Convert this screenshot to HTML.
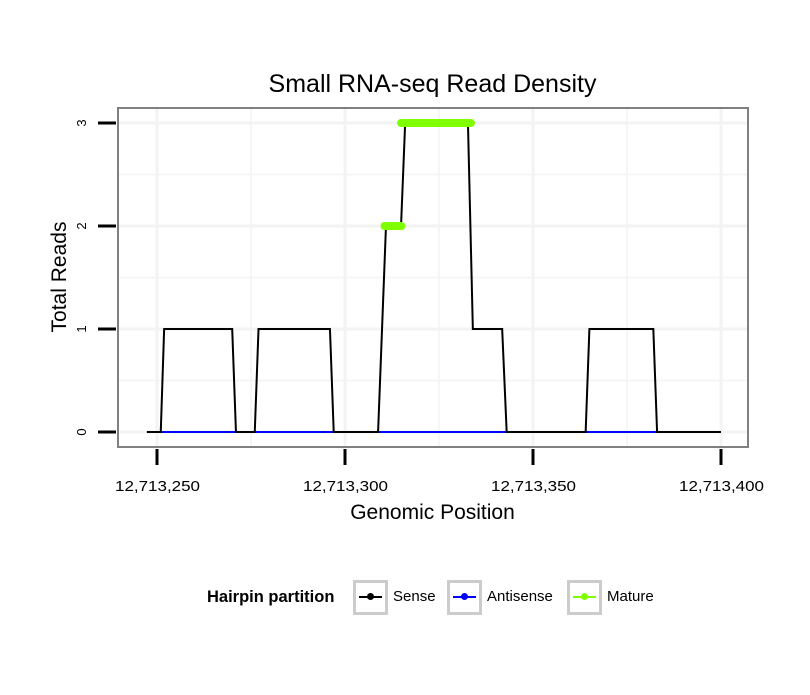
<!DOCTYPE html>
<html><head><meta charset="utf-8"><style>body{margin:0;background:#fff}svg{font-family:"Liberation Sans",sans-serif}</style></head>
<body>
<svg id="c" width="810" height="690"></svg>
<script>
const senseX=[247.3,251,251.9,270,271,276,277,296,297,308.8,310.9,314.9,316,332.7,334,341.8,343,364,365,382,383,400];
const senseY=[0,0,1,1,0,0,1,1,0,0,2,2,3,3,1,1,0,0,1,1,0,0];
const antiX=[251,383];
const antiY=[0,0];
const matureStart=[310.5,314.9];
const matureEnd=[315,333.5];
const matureY=[2,3];
const xTicks=[250,300,350,400];
const xTickLabels=["12,713,250","12,713,300","12,713,350","12,713,400"];
const yTicks=[0,1,2,3];
const NS="http://www.w3.org/2000/svg";
const svg=document.getElementById('c');
const X=v=>157+(v-250)*3.76;
const Y=v=>432-v*103;
function el(t,a,p){const e=document.createElementNS(NS,t);for(const k in a)e.setAttribute(k,a[k]);(p||svg).appendChild(e);return e;}
const L=118,R=748,T=108,B=447;
const panel=el('rect',{x:L,y:T,width:R-L,height:B-T,fill:'#fff'});


const grid=el('g',{stroke:'#f3f3f3'});


for(let v=0;v<=3.25;v+=0.5){el('line',{x1:L,x2:R,y1:Y(v),y2:Y(v),'stroke-width':v%1?1.5:3},grid);}
for(let v=225;v<=400;v+=25){if(X(v)>L&&X(v)<R)el('line',{y1:T,y2:B,x1:X(v),x2:X(v),'stroke-width':v%50?1.5:3},grid);}
const anti=el('polyline',{points:antiX.map((x,i)=>X(x)+','+Y(antiY[i])).join(' '),fill:'none',stroke:'#0000ff','stroke-width':2});


const sense=el('polyline',{points:senseX.map((x,i)=>X(x)+','+Y(senseY[i])).join(' '),fill:'none',stroke:'#000','stroke-width':2});


matureStart.forEach((s,i)=>{const m=el('line',{x1:X(s),x2:X(matureEnd[i]),y1:Y(matureY[i]),y2:Y(matureY[i]),stroke:'#7fff00','stroke-width':8,'stroke-linecap':'round'});

});
const border=el('rect',{x:L,y:T,width:R-L,height:B-T,fill:'none',stroke:'#808080','stroke-width':2});


yTicks.forEach(v=>{el('line',{x1:98,x2:116,y1:Y(v),y2:Y(v),stroke:'#000','stroke-width':3});
const t=el('text',{x:86,y:Y(v),'font-size':13,'text-anchor':'middle',transform:`rotate(-90 86 ${Y(v)})`});t.textContent=v;

});
xTicks.forEach((v,i)=>{el('line',{x1:X(v),x2:X(v),y1:449,y2:465,stroke:'#000','stroke-width':3});
const t=el('text',{x:X(v)-42,y:491,'font-size':15,textLength:85,lengthAdjust:'spacingAndGlyphs'});t.textContent=xTickLabels[i];

});
</script>
<div style="position:absolute;left:0;top:0;width:810px;height:690px;pointer-events:none;font-family:'Liberation Sans',sans-serif">
<div style="position:absolute;left:0;width:865px;text-align:center;top:70px;font-size:25px">Small RNA-seq Read Density</div>
<div style="position:absolute;left:0;width:865px;text-align:center;top:501px;font-size:21px">Genomic Position</div>
<div style="position:absolute;left:-5px;top:265px;width:130px;text-align:center;font-size:21px;transform:rotate(-90deg)">Total Reads</div>
<div style="position:absolute;left:0;top:580px;width:810px;height:36px;font-size:15px">
<b style="position:absolute;left:207px;top:8px;font-size:16.5px">Hairpin partition</b>
<span style="position:absolute;left:353px;top:0;width:29px;height:29px;border:3px solid #ccc"><i style="position:absolute;left:3px;right:3px;top:13px;height:2px;background:#000"></i><i style="position:absolute;left:11px;top:10px;width:7px;height:7px;border-radius:50%;background:#000"></i></span>
<span style="position:absolute;left:393px;top:8px">Sense</span>
<span style="position:absolute;left:447px;top:0;width:29px;height:29px;border:3px solid #ccc"><i style="position:absolute;left:3px;right:3px;top:13px;height:2px;background:#00f"></i><i style="position:absolute;left:11px;top:10px;width:7px;height:7px;border-radius:50%;background:#00f"></i></span>
<span style="position:absolute;left:487px;top:8px">Antisense</span>
<span style="position:absolute;left:567px;top:0;width:29px;height:29px;border:3px solid #ccc"><i style="position:absolute;left:3px;right:3px;top:13px;height:2px;background:#7fff00"></i><i style="position:absolute;left:11px;top:10px;width:7px;height:7px;border-radius:50%;background:#7fff00"></i></span>
<span style="position:absolute;left:607px;top:8px">Mature</span>
</div>
</div>
</body></html>
